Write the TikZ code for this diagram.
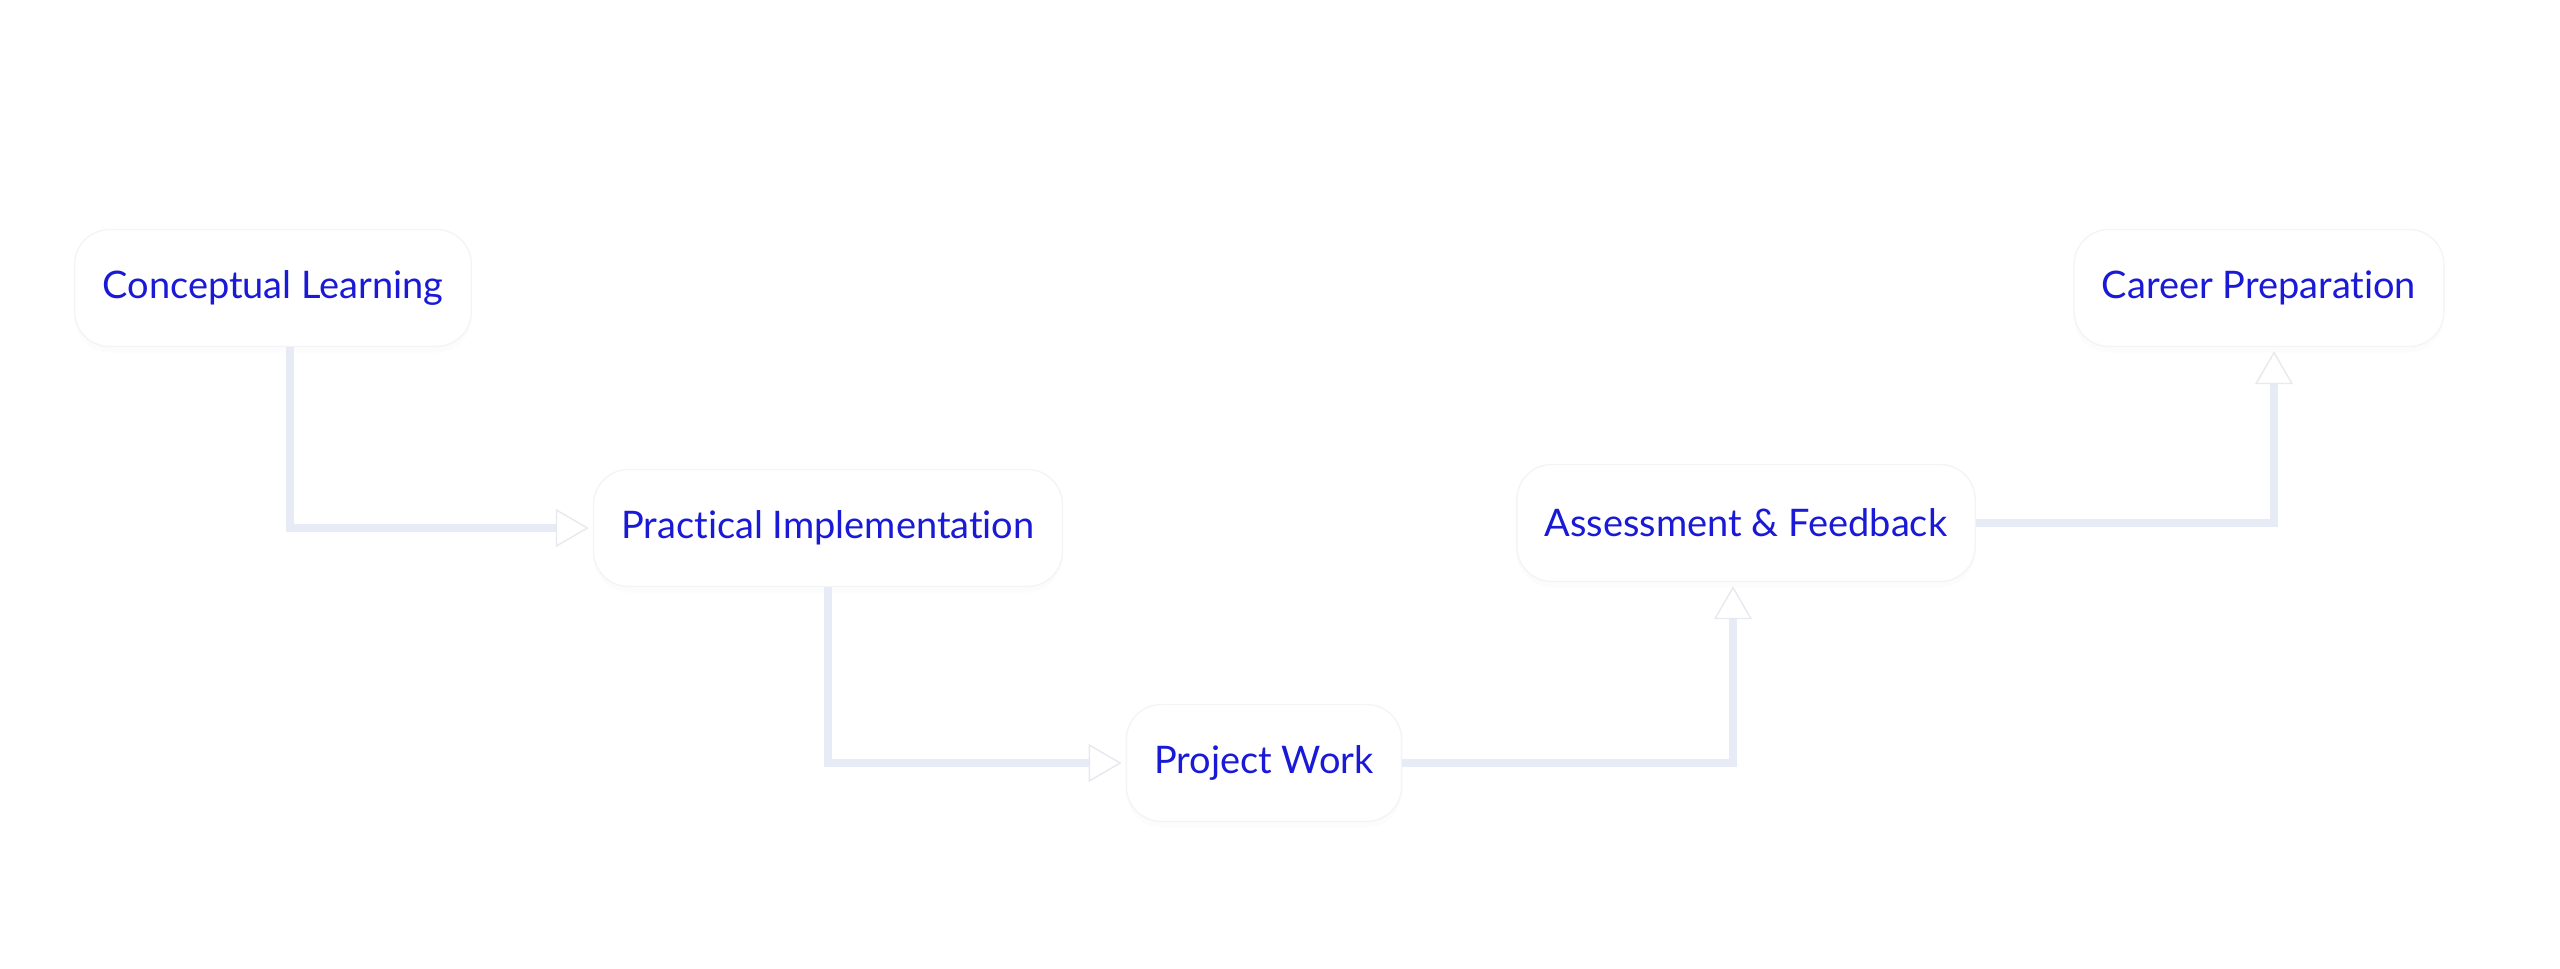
\documentclass[tikz,border=0pt]{standalone}
\usepackage{fontspec}
\setmainfont{Lato}[Ligatures=NoCommon]
\usetikzlibrary{arrows.meta,calc,shadows}
\definecolor{txtblue}{RGB}{26,26,214}
\definecolor{linec}{RGB}{230,235,246}
\definecolor{boxedge}{RGB}{244,244,248}
\definecolor{tipedge}{RGB}{232,232,238}
\begin{document}
\begin{tikzpicture}[x=0.1mm,y=-0.1mm,
  stage/.style={draw=boxedge, line width=0.4pt, fill=white, rounded corners=3.5mm,
    minimum height=11.7mm, inner xsep=2.8mm, text=txtblue,
    font=\fontsize{10.8pt}{13pt}\selectfont,
    drop shadow={opacity=0.025, shadow xshift=0mm, shadow yshift=-0.6mm}},
  conn/.style={draw=linec, line width=0.75mm,
    -{Triangle[width=3.8mm,length=3.3mm,line width=0.4pt,color=tipedge,fill=white]},
    shorten >=0.4mm}]
\useasboundingbox (0,0) rectangle (2560,968);
\node[stage] (cl) at (273,288) {Conceptual Learning};
\node[stage] (pi) at (828,528) {Practical Implementation};
\node[stage] (pw) at (1264,763) {Project Work};
\node[stage] (af) at (1746,523) {Assessment \& Feedback};
\node[stage] (cp) at (2259,288) {Career Preparation};
\draw[conn] ([xshift=1.7mm]cl.south) |- (pi.west);
\draw[conn] (pi.south) |- (pw.west);
\draw[conn] (pw.east) -| ([xshift=-1.3mm]af.south);
\draw[conn] (af.east) -| ([xshift=1.5mm]cp.south);
\end{tikzpicture}
\end{document}
